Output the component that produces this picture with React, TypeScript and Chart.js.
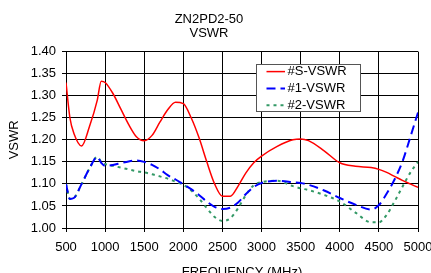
import React, { useEffect, useRef } from "react";
import { Chart, registerables } from "chart.js";

Chart.register(...registerables);

const freqs = [500, 550, 600, 700, 800, 900, 950, 1000, 1100, 1200, 1300, 1400, 1500, 1600, 1700, 1800, 1900, 2000, 2100, 2200, 2300, 2400, 2500, 2600, 2700, 2800, 2900, 3000, 3200, 3400, 3500, 3600, 3800, 4000, 4200, 4400, 4500, 4600, 4700, 4800, 4900, 5000];

const sVswr = [1.330, 1.250, 1.215, 1.186, 1.230, 1.290, 1.333, 1.330, 1.305, 1.270, 1.235, 1.207, 1.198, 1.210, 1.240, 1.268, 1.285, 1.282, 1.250, 1.205, 1.150, 1.100, 1.072, 1.072, 1.095, 1.125, 1.148, 1.163, 1.185, 1.200, 1.202, 1.198, 1.175, 1.148, 1.140, 1.137, 1.133, 1.126, 1.117, 1.108, 1.100, 1.092];

const vswr1 = [1.100, 1.066, 1.068, 1.100, 1.135, 1.161, 1.148, 1.141, 1.143, 1.147, 1.151, 1.153, 1.150, 1.143, 1.133, 1.120, 1.110, 1.099, 1.088, 1.075, 1.060, 1.048, 1.043, 1.046, 1.058, 1.077, 1.093, 1.102, 1.107, 1.104, 1.102, 1.098, 1.085, 1.068, 1.053, 1.042, 1.052, 1.078, 1.110, 1.150, 1.205, 1.262];

const vswr2 = [1.100, 1.066, 1.068, 1.100, 1.135, 1.161, 1.150, 1.145, 1.141, 1.137, 1.133, 1.129, 1.126, 1.122, 1.117, 1.112, 1.105, 1.098, 1.085, 1.067, 1.045, 1.025, 1.016, 1.022, 1.045, 1.075, 1.097, 1.104, 1.107, 1.095, 1.090, 1.086, 1.075, 1.060, 1.035, 1.013, 1.013, 1.030, 1.060, 1.093, 1.125, 1.150];

const seriesLabels = ["#S-VSWR", "#1-VSWR", "#2-VSWR"];
const titleLines = ["ZN2PD2-50", "VSWR"];
const xTitle = "FREQUENCY (MHz)";
const yTitle = "VSWR";

const FONT = "'Liberation Sans', Arial, sans-serif";

const legendPlugin = {
  id: "insideLegend",
  afterDraw(chart: any) {
    const ctx = chart.ctx;
    const a = chart.chartArea;
    const left = a.left + 190;
    const top = a.top + 12.5;
    const w = 104;
    const h = 47;
    ctx.save();
    ctx.fillStyle = "#ffffff";
    ctx.fillRect(left, top, w, h);
    ctx.strokeStyle = "#555555";
    ctx.lineWidth = 1;
    ctx.strokeRect(Math.round(left) + 0.5, Math.round(top) + 0.5, w, h);
    ctx.font = "13px " + FONT;
    ctx.textBaseline = "middle";
    ctx.textAlign = "left";
    chart.data.datasets.forEach((ds: any, i: number) => {
      const y = top + 6.5 + 16.8 * i + 1;
      ctx.beginPath();
      ctx.strokeStyle = ds.borderColor;
      ctx.lineWidth = ds.borderWidth;
      ctx.setLineDash(ds.borderDash || []);
      ctx.moveTo(left + 10.5, y);
      ctx.lineTo(left + 29, y);
      ctx.stroke();
      ctx.setLineDash([]);
      ctx.fillStyle = "#000000";
      ctx.fillText(ds.label, left + 31.5, y);
    });
    ctx.restore();
  },
};

export default function App() {
  const ref = useRef<HTMLCanvasElement | null>(null);
  useEffect(() => {
    if (!ref.current) return;
    const mk = (vals: number[]) => freqs.map((f, i) => ({ x: f, y: vals[i] }));
    const chart = new Chart(ref.current, {
      type: "line",
      data: {
        datasets: [
          { label: seriesLabels[0], data: mk(sVswr), borderColor: "#ff0000", borderWidth: 1.5, pointRadius: 0, tension: 0.4, cubicInterpolationMode: "monotone", fill: false },
          { label: seriesLabels[1], data: mk(vswr1), borderColor: "#0000ff", borderWidth: 2, borderDash: [9, 5], pointRadius: 0, tension: 0.4, cubicInterpolationMode: "monotone", fill: false },
          { label: seriesLabels[2], data: mk(vswr2), borderColor: "#339966", borderWidth: 2, borderDash: [3, 4], pointRadius: 0, tension: 0.4, cubicInterpolationMode: "monotone", fill: false },
        ],
      },
      options: {
        responsive: false,
        animation: false,
        devicePixelRatio: 1,
        layout: { padding: { left: 0, right: 20, top: 0, bottom: 0 } },
        plugins: {
          legend: { display: false },
          tooltip: { enabled: false },
          title: {
            display: true,
            text: titleLines,
            color: "#000000",
            font: { family: FONT, size: 13, weight: "normal", lineHeight: 1.1 },
            padding: { top: 12, bottom: 11 },
          },
        },
        scales: {
          x: {
            type: "linear",
            min: 500,
            max: 5000,
            ticks: { stepSize: 500, color: "#000", font: { family: FONT, size: 13 }, padding: 8, maxRotation: 0, autoSkip: false, callback: (v: any) => String(v) },
            grid: { color: "#000000", lineWidth: 1, tickLength: 4 },
            border: { color: "#000000" },
            title: { display: true, text: xTitle, color: "#000", font: { family: FONT, size: 13 }, padding: { top: 4, bottom: 4 } },
            afterFit: (s: any) => { s.height = 56; s.paddingRight = 0; s.paddingLeft = 0; },
          },
          y: {
            min: 1,
            max: 1.4,
            ticks: { stepSize: 0.05, color: "#000", font: { family: FONT, size: 13 }, padding: 6, callback: (v: any) => Number(v).toFixed(2) },
            grid: { color: "#000000", lineWidth: 1, tickLength: 4 },
            border: { color: "#000000" },
            title: { display: true, text: yTitle, color: "#000", font: { family: FONT, size: 13 }, padding: { top: 7, bottom: 4 } },
            afterFit: (s: any) => { s.width = 66; },
          },
        },
      },
      plugins: [legendPlugin],
    } as any);
    return () => chart.destroy();
  }, []);
  return (
    <div style={{ position: "fixed", left: 0, top: 0, width: 431, height: 273, overflow: "hidden", background: "#fff" }}>
      <canvas ref={ref} width={438} height={284} style={{ width: 438, height: 284, display: "block" }} />
    </div>
  );
}
